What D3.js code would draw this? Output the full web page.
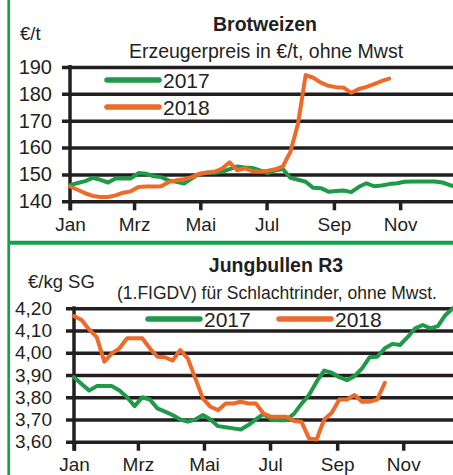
<!DOCTYPE html>
<html>
<head>
<meta charset="utf-8">
<script src="https://cdn.jsdelivr.net/npm/d3@7"></script>
<style>
  html, body { margin: 0; padding: 0; background: #fff; overflow: hidden; }
  svg { display: block; font-family: "Liberation Sans", Arial, sans-serif; }
  text { fill: #231f20; }
</style>
</head>
<body>
<div id="area"></div>
<script>
// weekly prices, week 0 = 1 Jan
let wheat2017 = [146, 146.8, 147.5, 148.7, 148, 147, 148.5, 148.5, 148.5, 150.5, 150.3, 149.3, 149,
  147.7, 147.3, 146.6, 148.5, 150.2, 150.7, 150.6, 151, 152, 153, 152.6, 152.4, 151.5, 150.5,
  151.5, 152, 148.7, 148, 147.3, 145, 144.9, 143.6, 143.8, 144, 143.4, 145.4, 146.7, 145.6,
  145.9, 146.4, 146.7, 147.3, 147.4, 147.4, 147.4, 147.4, 147, 146, 145.3]
let wheat2018 = [145.5, 144.3, 143, 142, 141.6, 141.6, 142.2, 143.2, 143.7, 145.3, 145.5, 145.5,
  145.6, 147.2, 147.8, 148.2, 149, 150.2, 150.6, 151, 152.2, 154.5, 151.5, 152.3, 151.2, 151.1,
  151.4, 151.9, 153, 158.5, 169, 187, 186, 184.2, 183, 182.5, 182.3, 180.4, 181.8, 182.6, 183.6,
  184.8, 185.7]
let bulls2017 = [3.89, 3.86, 3.83, 3.85, 3.85, 3.85, 3.83, 3.80, 3.76, 3.80, 3.79, 3.75, 3.735,
  3.72, 3.70, 3.69, 3.70, 3.72, 3.70, 3.67, 3.665, 3.66, 3.655, 3.675, 3.70, 3.725, 3.70, 3.697,
  3.697, 3.725, 3.77, 3.81, 3.87, 3.92, 3.91, 3.89, 3.877, 3.895, 3.93, 3.98, 3.982, 4.02, 4.04,
  4.035, 4.07, 4.11, 4.125, 4.11, 4.12, 4.17, 4.20, 4.23]
let bulls2018 = [4.165, 4.147, 4.105, 4.07, 3.96, 3.997, 4.02, 4.065, 4.065, 4.065, 4.02, 3.982,
  3.98, 3.965, 4.012, 3.975, 3.885, 3.795, 3.757, 3.742, 3.772, 3.772, 3.78, 3.772, 3.772, 3.727,
  3.712, 3.712, 3.712, 3.693, 3.69, 3.615, 3.61, 3.70, 3.73, 3.79, 3.79, 3.81, 3.78, 3.78, 3.79,
  3.865]

let monthLabels = ['Jan', 'Mrz', 'Mai', 'Jul', 'Sep', 'Nov']
let wheatTicks = [140, 150, 160, 170, 180, 190]
let bullTicks = [3.6, 3.7, 3.8, 3.9, 4.0, 4.1, 4.2]
let seriesNames = ['2017', '2018']

let width = 453
let height = 475
let green = '#1e9a48'
let orange = '#ee6a29'
let frame_color = '#12a24b'
let grid_color = '#231f20'

let svg = d3.select('#area').append('svg')
  .attr('width', width).attr('height', height)

function weekDate(i) { return new Date(2017, 0, 1 + 7 * i) }
let monthTicks = monthLabels.map(function(m, i) { return new Date(2017, i * 2, 1) })

function drawPanel(opt) {
  let g = svg.append('g')
  let x = d3.scaleTime()
    .domain([new Date(2017, 0, 1), new Date(2018, 0, 1)])
    .range([opt.x0, opt.x1])
  let y = d3.scaleLinear().domain(opt.domain).range([opt.yBottom, opt.yTop])

  // gridlines + y labels
  let yAxis = g.append('g')
    .attr('transform', 'translate(' + (opt.x0 - 8) + ',0)')
    .call(d3.axisLeft(y).tickValues(opt.ticks)
      .tickSizeInner(-(width - opt.x0 + 8)).tickSizeOuter(0)
      .tickPadding(opt.labelPad).tickFormat(opt.fmt))
  yAxis.select('.domain').remove()
  yAxis.selectAll('line').attr('stroke', grid_color).attr('stroke-width', 3.5)
  yAxis.selectAll('text').attr('font-size', opt.yFont).attr('fill', '#231f20')
    .attr('font-family', null)

  // x ticks
  let xAxis = g.append('g')
    .attr('transform', 'translate(0,' + opt.yBottom + ')')
    .call(d3.axisBottom(x).tickValues(monthTicks)
      .tickSize(9).tickPadding(7)
      .tickFormat(function(d, i) { return monthLabels[i] }))
  xAxis.select('.domain').remove()
  xAxis.selectAll('line').attr('stroke', grid_color).attr('stroke-width', 3.5)
  xAxis.selectAll('text').attr('font-size', 19).attr('fill', '#231f20')
    .attr('font-family', null)

  // y axis line
  g.append('line')
    .attr('x1', opt.x0).attr('x2', opt.x0)
    .attr('y1', opt.yTop - 2).attr('y2', opt.yBottom + 9)
    .attr('stroke', grid_color).attr('stroke-width', 3.5)

  let line = d3.line()
    .x(function(d, i) { return x(weekDate(i)) })
    .y(function(d) { return y(d) })

  let cols = [green, orange]
  opt.series.forEach(function(s, k) {
    g.append('path').datum(s)
      .attr('d', line)
      .attr('fill', 'none')
      .attr('stroke', cols[k])
      .attr('stroke-width', 4)
      .attr('stroke-linejoin', 'round')
      .attr('stroke-linecap', 'round')
  })

  // legend
  opt.legend.forEach(function(l, k) {
    g.append('line')
      .attr('x1', l[0]).attr('x2', l[0] + 52)
      .attr('y1', l[1]).attr('y2', l[1])
      .attr('stroke', cols[k]).attr('stroke-width', 5.5)
      .attr('stroke-linecap', 'round')
    g.append('text')
      .attr('x', l[0] + 56).attr('y', l[1] + 8)
      .attr('font-size', 21)
      .text(seriesNames[k])
  })

  g.append('text')
    .attr('x', opt.titleX).attr('y', opt.titleY)
    .attr('text-anchor', 'middle')
    .attr('font-size', 19.5).attr('font-weight', 'bold')
    .text(opt.title)
  g.append('text')
    .attr('x', opt.subX).attr('y', opt.subY)
    .attr('text-anchor', 'middle')
    .attr('font-size', opt.subFont)
    .text(opt.subtitle)
  g.append('text')
    .attr('x', opt.unitX).attr('y', opt.unitY)
    .attr('font-size', 18.5)
    .text(opt.unit)
}

drawPanel({
  x0: 70, x1: 466.4, yTop: 67, yBottom: 201.3,
  domain: [140, 190], ticks: wheatTicks, labelPad: 10, yFont: 20,
  fmt: d3.format('d'),
  series: [wheat2017, wheat2018],
  legend: [[107, 80], [107, 107]],
  title: 'Brotweizen', titleX: 265, titleY: 31,
  subtitle: 'Erzeugerpreis in €/t, ohne Mwst', subX: 266, subY: 58, subFont: 19.5,
  unit: '€/t', unitX: 20, unitY: 40
})

drawPanel({
  x0: 74, x1: 469.3, yTop: 308.3, yBottom: 441.7,
  domain: [3.6, 4.2], ticks: bullTicks, labelPad: 14, yFont: 19,
  fmt: function(d) { return d3.format('.2f')(d).replace('.', ',') },
  series: [bulls2017, bulls2018],
  legend: [[148, 319], [279, 319]],
  title: 'Jungbullen R3', titleX: 276, titleY: 272,
  subtitle: '(1.FIGDV) für Schlachtrinder, ohne Mwst.', subX: 277, subY: 299, subFont: 17.5,
  unit: '€/kg SG', unitX: 28, unitY: 288
})

// green frame lines
svg.append('line').attr('x1', 8.7).attr('x2', 8.7).attr('y1', 0).attr('y2', height)
  .attr('stroke', frame_color).attr('stroke-width', 2.7)
svg.append('line').attr('x1', 8.7).attr('x2', width).attr('y1', 242.8).attr('y2', 242.8)
  .attr('stroke', frame_color).attr('stroke-width', 4)
</script>
</body>
</html>
